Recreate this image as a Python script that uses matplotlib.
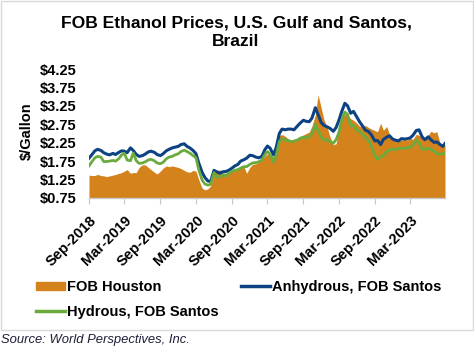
import matplotlib
matplotlib.use("Agg")
import matplotlib.pyplot as plt
import matplotlib.dates as mdates
import matplotlib.patches as mpatches
from matplotlib.lines import Line2D
import pandas as pd

plt.rcParams['font.family'] = ['Liberation Sans', 'DejaVu Sans']

# semi-monthly observation dates, Sep-2018 .. Aug-2023
dates = list(pd.date_range('2018-09-01', periods=120, freq='SMS')) + [pd.Timestamp('2023-08-26')]

fob_houston = [
    1.37, 1.36, 1.36, 1.39, 1.36, 1.35, 1.33, 1.35, 1.37, 1.39,
    1.42, 1.44, 1.48, 1.52, 1.42, 1.44, 1.44, 1.58, 1.65, 1.65,
    1.58, 1.52, 1.45, 1.40, 1.48, 1.56, 1.62, 1.60, 1.62, 1.60,
    1.58, 1.55, 1.50, 1.46, 1.45, 1.50, 1.48, 1.25, 1.02, 0.97,
    1.00, 1.08, 1.38, 1.50, 1.51, 1.43, 1.42, 1.48, 1.51, 1.52,
    1.54, 1.58, 1.60, 1.42, 1.58, 1.66, 1.68, 1.72, 1.78, 1.88,
    1.95, 1.92, 1.87, 2.03, 2.45, 2.47, 2.42, 2.36, 2.32, 2.35,
    2.37, 2.41, 2.46, 2.50, 2.54, 2.70, 3.00, 3.55, 3.20, 2.88,
    2.66, 2.41, 2.20, 2.22, 2.60, 2.90, 3.02, 3.00, 2.90, 2.86,
    2.78, 2.70, 2.69, 2.72, 2.66, 2.62, 2.58, 2.55, 2.78, 2.59,
    2.69, 2.48, 2.38, 2.34, 2.32, 2.32, 2.34, 2.32, 2.37, 2.34,
    2.48, 2.45, 2.38, 2.30, 2.45, 2.56, 2.52, 2.55, 2.23, 2.22,
    2.19,
]

anhydrous_santos = [
    1.83, 1.92, 2.03, 2.07, 2.04, 1.98, 1.94, 1.92, 1.96, 1.93,
    1.99, 2.03, 2.02, 1.98, 2.11, 2.04, 1.93, 1.88, 1.90, 1.94,
    2.00, 2.02, 1.99, 1.93, 1.90, 1.95, 2.03, 2.07, 2.11, 2.13,
    2.15, 2.20, 2.22, 2.15, 2.10, 2.04, 1.95, 1.70, 1.45, 1.31,
    1.21, 1.20, 1.50, 1.46, 1.42, 1.46, 1.47, 1.50, 1.56, 1.62,
    1.66, 1.75, 1.79, 1.83, 1.91, 1.90, 1.86, 1.84, 1.88, 2.05,
    2.16, 2.10, 1.92, 2.12, 2.50, 2.62, 2.60, 2.62, 2.62, 2.60,
    2.70, 2.78, 2.86, 2.83, 2.82, 2.92, 3.20, 3.02, 2.80, 2.72,
    2.68, 2.64, 2.56, 2.66, 2.85, 3.08, 3.32, 3.25, 3.05, 3.10,
    2.95, 2.82, 2.70, 2.59, 2.55, 2.46, 2.30, 2.31, 2.20, 2.34,
    2.40, 2.44, 2.35, 2.32, 2.30, 2.36, 2.35, 2.36, 2.38, 2.45,
    2.58, 2.60, 2.41, 2.33, 2.41, 2.33, 2.26, 2.27, 2.20, 2.15,
    2.23,
]

hydrous_santos = [
    1.62, 1.73, 1.84, 1.88, 1.86, 1.74, 1.74, 1.75, 1.77, 1.75,
    1.82, 1.92, 1.96, 1.78, 1.76, 1.97, 1.76, 1.69, 1.70, 1.73,
    1.78, 1.80, 1.76, 1.70, 1.68, 1.72, 1.81, 1.86, 1.88, 1.92,
    1.95, 2.01, 2.05, 2.01, 1.96, 1.90, 1.84, 1.52, 1.24, 1.13,
    1.10, 1.12, 1.44, 1.31, 1.33, 1.37, 1.35, 1.42, 1.47, 1.50,
    1.52, 1.56, 1.60, 1.60, 1.66, 1.70, 1.71, 1.73, 1.78, 1.92,
    2.01, 1.94, 1.72, 1.90, 2.28, 2.36, 2.33, 2.30, 2.28, 2.29,
    2.32, 2.37, 2.40, 2.38, 2.42, 2.50, 2.75, 2.58, 2.42, 2.32,
    2.32, 2.28, 2.24, 2.33, 2.52, 2.85, 3.08, 3.02, 2.70, 2.73,
    2.59, 2.56, 2.47, 2.40, 2.31, 2.15, 1.90, 1.80, 1.87, 1.90,
    2.01, 2.05, 2.07, 2.07, 2.09, 2.10, 2.10, 2.11, 2.12, 2.19,
    2.32, 2.25, 2.07, 2.08, 2.10, 2.07, 2.02, 1.96, 1.94, 1.95,
    1.97,
]

y_ticks = [0.75, 1.25, 1.75, 2.25, 2.75, 3.25, 3.75, 4.25]
x_ticks = ['2018-09-01', '2019-03-01', '2019-09-01', '2020-03-01', '2020-09-01',
           '2021-03-01', '2021-09-01', '2022-03-01', '2022-09-01', '2023-03-01']

C_ORANGE = '#D4831C'
C_BLUE = '#0D4283'
C_GREEN = '#6BAB3D'

fig = plt.figure(figsize=(4.74, 3.5), dpi=100)
ax = fig.add_axes([89/474, 1-198/350, (445-89)/474, (198-69)/350])

ax.fill_between(dates, 0.75, fob_houston, color=C_ORANGE, linewidth=0, label='FOB Houston')
ax.plot(dates, anhydrous_santos, color=C_BLUE, lw=2.2, label='Anhydrous, FOB Santos')
ax.plot(dates, hydrous_santos, color=C_GREEN, lw=2.0, label='Hydrous, FOB Santos')

ax.set_ylim(0.75, 4.25)
ax.set_xlim(pd.Timestamp('2018-09-01'), pd.Timestamp('2023-08-26'))
ax.set_yticks(y_ticks)
ax.set_yticklabels(['$%.2f' % v for v in y_ticks], fontsize=10.5, fontweight='bold')
ax.set_xticks([pd.Timestamp(t) for t in x_ticks])
ax.xaxis.set_major_formatter(mdates.DateFormatter('%b-%Y'))
for lab in ax.get_xticklabels():
    lab.set_rotation(45)
    lab.set_ha('right')
    lab.set_va('top')
    lab.set_rotation_mode('anchor')
    lab.set_fontsize(10.5)
    lab.set_fontweight('bold')

for s in ['top', 'right', 'left']:
    ax.spines[s].set_visible(False)
ax.spines['bottom'].set_color('#C8C8C8')
ax.spines['bottom'].set_linewidth(1.0)
ax.tick_params(axis='y', length=0, pad=9)
ax.tick_params(axis='x', length=4, color='#C8C8C8', pad=7)

fig.text(236/474, 1-15/350, 'FOB Ethanol Prices, U.S. Gulf and Santos,\nBrazil',
         ha='center', va='top', fontsize=12.6, fontweight='bold', linespacing=1.35)
fig.text(27/474, 1-131/350, '$/Gallon', rotation=90, ha='center', va='center',
         fontsize=10.5, fontweight='bold')

handles = [mpatches.Patch(color=C_ORANGE),
           Line2D([], [], color=C_GREEN, lw=2.5),
           Line2D([], [], color=C_BLUE, lw=2.5)]
labels = ['FOB Houston', 'Hydrous, FOB Santos', 'Anhydrous, FOB Santos']
fig.legend(handles, labels, ncol=2, loc='upper left', bbox_to_anchor=(36/474, 1-280/350),
           frameon=False, borderpad=0, borderaxespad=0, handlelength=2.0, handleheight=0.5,
           handletextpad=0.15, columnspacing=1.5, labelspacing=0.75,
           prop={'size': 10.5, 'weight': 'bold'})

fig.patches.append(mpatches.Rectangle((0.5/474, 1-330/350), 472.5/474, 329.5/350,
                                      transform=fig.transFigure, fill=False,
                                      edgecolor='#D9D9D9', linewidth=1.0))
fig.text(1/474, 1-340/350, 'Source: World Perspectives, Inc.', ha='left', va='center',
         fontsize=9.4, fontstyle='italic', color='#1F1F3A')

fig.savefig('out.png', dpi=100)
